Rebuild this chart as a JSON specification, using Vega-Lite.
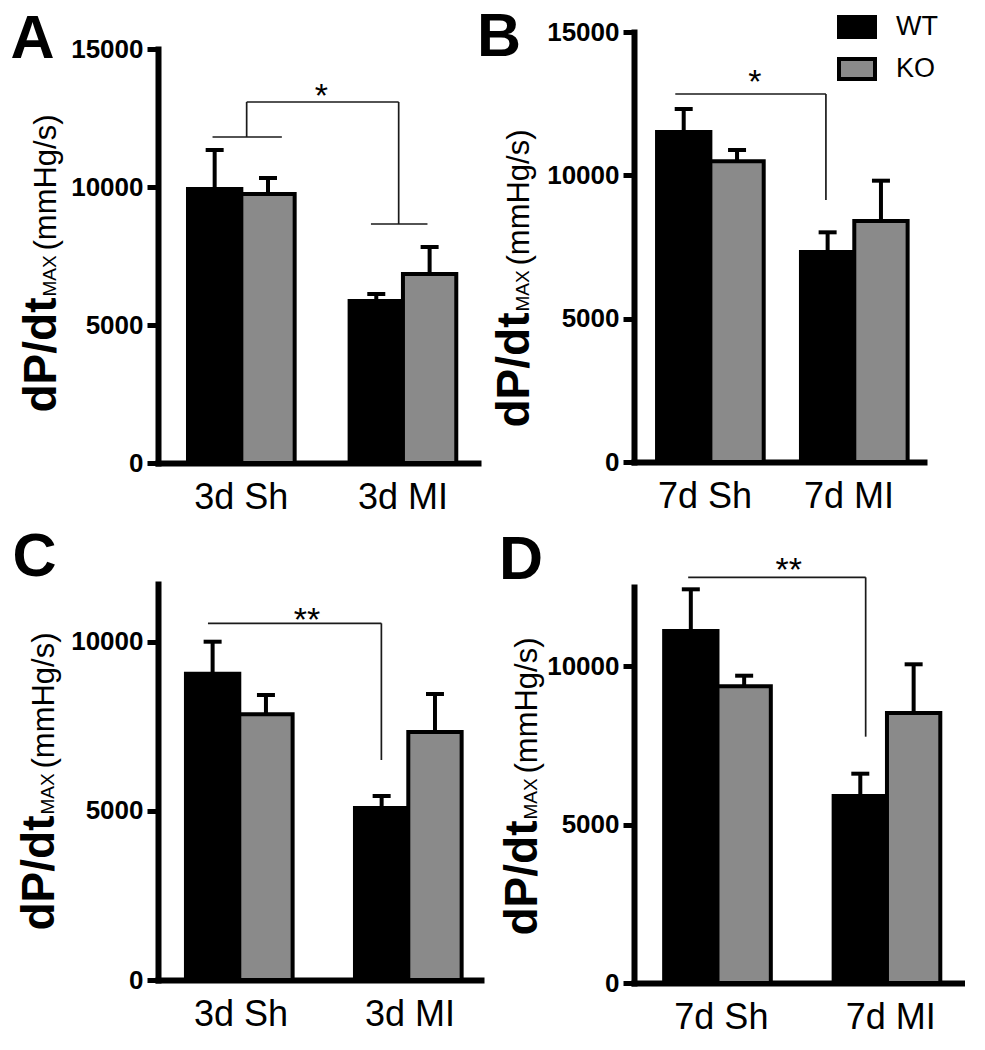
{
  "$schema": "https://vega.github.io/schema/vega-lite/v6.json",
  "padding": {"left": 10, "top": 6, "right": 0, "bottom": 0},
  "config": {
    "view": {"stroke": null},
    "font": "Liberation Sans",
    "axisX": {"domainColor": "black", "domainWidth": 6, "domainCap": "square", "ticks": false, "labelFont": "Liberation Sans", "labelFontSize": 36, "labelFontWeight": "normal", "labelColor": "black", "labelPadding": 17, "labelAngle": 0, "grid": false}
  },
  "datasets": {
    "bars": [
      {"panel": "A", "group": "3d Sh", "genotype": "WT", "mean": 9930, "upper": 11340},
      {"panel": "A", "group": "3d Sh", "genotype": "KO", "mean": 9746, "upper": 10326},
      {"panel": "A", "group": "3d MI", "genotype": "WT", "mean": 5870, "upper": 6123},
      {"panel": "A", "group": "3d MI", "genotype": "KO", "mean": 6848, "upper": 7826},
      {"panel": "B", "group": "7d Sh", "genotype": "WT", "mean": 11512, "upper": 12314},
      {"panel": "B", "group": "7d Sh", "genotype": "KO", "mean": 10490, "upper": 10884},
      {"panel": "B", "group": "7d MI", "genotype": "WT", "mean": 7326, "upper": 8012},
      {"panel": "B", "group": "7d MI", "genotype": "KO", "mean": 8407, "upper": 9813},
      {"panel": "C", "group": "3d Sh", "genotype": "WT", "mean": 9050, "upper": 9995},
      {"panel": "C", "group": "3d Sh", "genotype": "KO", "mean": 7850, "upper": 8420},
      {"panel": "C", "group": "3d MI", "genotype": "WT", "mean": 5082, "upper": 5436},
      {"panel": "C", "group": "3d MI", "genotype": "KO", "mean": 7327, "upper": 8450},
      {"panel": "D", "group": "7d Sh", "genotype": "WT", "mean": 11111, "upper": 12427},
      {"panel": "D", "group": "7d Sh", "genotype": "KO", "mean": 9366, "upper": 9700},
      {"panel": "D", "group": "7d MI", "genotype": "WT", "mean": 5903, "upper": 6607},
      {"panel": "D", "group": "7d MI", "genotype": "KO", "mean": 8523, "upper": 10060}
    ],
    "sig": [
      {"panel": "A", "from": "3d Sh", "to": "3d MI", "top": 13080, "low_from": 11812, "low_to": 8659, "star_y": 12899, "label": "*"},
      {"panel": "B", "from": "7d Sh", "to": "7d MI", "top": 12837, "low_to": 9140, "star_y": 12855, "label": "*"},
      {"panel": "C", "from": "3d Sh", "to": "3d MI", "top": 10539, "low_to": 6500, "star_y": 10326, "label": "**"},
      {"panel": "D", "from": "7d Sh", "to": "7d MI", "top": 12806, "low_to": 7775, "star_y": 12705, "label": "**"}
    ]
  },
  "resolve": {"scale": {"color": "independent"}, "legend": {"color": "independent"}},
  "columns": 2,
  "align": "none",
  "spacing": -5,
  "concat": [
    {
      "bounds": "flush",
      "spacing": 16,
      "resolve": {"scale": {"color": "independent"}, "legend": {"color": "independent"}},
      "vconcat": [
        {"width": 1, "height": 1, "data": {"values": []}, "mark": {"type": "point", "opacity": 0}, "encoding": {}},
        {
          "bounds": "flush",
          "spacing": 121,
          "resolve": {"scale": {"color": "independent"}, "legend": {"color": "independent"}},
          "vconcat": [
            {
              "width": 320, "height": 414,
              "resolve": {"axis": {"y": "independent"}},
              "layer": [
                {
                  "data": {"name": "bars"}, "transform": [{"filter": "datum.panel === 'A'"}],
                  "mark": {"type": "bar", "stroke": "black", "strokeWidth": 4},
                  "encoding": {
                    "x": {"field": "group", "type": "nominal", "sort": null, "scale": {"domain": ["3d Sh", "3d MI"], "paddingInner": 0.34, "paddingOuter": 0.16, "align": 0.58},
                      "axis": {"title": null, "domainColor": "black", "domainWidth": 6, "domainCap": "square", "ticks": false, "labelFont": "Liberation Sans", "labelFontSize": 36, "labelColor": "black", "labelPadding": 17, "labelAngle": 0, "grid": false}},
                    "xOffset": {"field": "genotype", "type": "nominal", "sort": null, "scale": {"domain": ["WT", "KO"], "paddingInner": 0, "paddingOuter": 0}},
                    "y": {"field": "mean", "type": "quantitative", "scale": {"domain": [0, 15000], "nice": false, "zero": true},
                      "axis": {"orient": "left", "title": "dP/dt", "titleX": -103, "titleY": 363, "titleAngle": -90, "titleAlign": "left", "titleBaseline": "alphabetic", "titleFont": "Liberation Sans", "titleFontSize": 46, "titleFontWeight": "bold", "titleColor": "black", "values": [0, 5000, 10000, 15000], "format": "d", "labelFont": "Liberation Sans", "labelFontSize": 26, "labelFontWeight": "bold", "labelColor": "black", "labelPadding": 4, "tickSize": 11, "tickWidth": 5, "tickColor": "black", "domainColor": "black", "domainWidth": 6, "domainCap": "square", "grid": false}},
                    "color": {"field": "genotype", "type": "nominal", "scale": {"domain": ["WT", "KO"], "range": ["#000000", "#8a8a8a"]}, "legend": null}
                  }
                },
                {
                  "data": {"name": "bars"}, "transform": [{"filter": "datum.panel === 'A'"}],
                  "mark": {"type": "rule", "strokeWidth": 4, "color": "black"},
                  "encoding": {
                    "x": {"field": "group", "type": "nominal", "sort": null, "scale": {"domain": ["3d Sh", "3d MI"]}, "axis": {"title": null}},
                    "xOffset": {"field": "genotype", "type": "nominal", "sort": null, "scale": {"domain": ["WT", "KO"]}},
                    "y": {"field": "mean", "type": "quantitative",
                      "axis": {"orient": "left", "title": "MAX", "titleX": -103, "titleY": 247, "titleAngle": -90, "titleAlign": "left", "titleBaseline": "alphabetic", "titleFont": "Liberation Sans", "titleFontSize": 19, "titleFontWeight": "normal", "titleColor": "black", "labels": false, "ticks": false, "domain": false, "grid": false}},
                    "y2": {"field": "upper"}
                  }
                },
                {
                  "data": {"name": "bars"}, "transform": [{"filter": "datum.panel === 'A'"}],
                  "mark": {"type": "tick", "thickness": 4, "size": 18, "color": "black", "opacity": 1},
                  "encoding": {
                    "x": {"field": "group", "type": "nominal", "sort": null, "scale": {"domain": ["3d Sh", "3d MI"]}, "axis": {"title": null}},
                    "xOffset": {"field": "genotype", "type": "nominal", "sort": null, "scale": {"domain": ["WT", "KO"]}},
                    "y": {"field": "upper", "type": "quantitative",
                      "axis": {"orient": "left", "title": "(mmHg/s)", "titleX": -103, "titleY": 201, "titleAngle": -90, "titleAlign": "left", "titleBaseline": "alphabetic", "titleFont": "Liberation Sans", "titleFontSize": 31, "titleFontWeight": "normal", "titleColor": "black", "labels": false, "ticks": false, "domain": false, "grid": false}}
                  }
                },
                {
                  "data": {"name": "sig"}, "transform": [{"filter": "datum.panel === 'A'"}],
                  "mark": {"type": "rule", "strokeWidth": 1.7, "color": "#1a1a1a"},
                  "encoding": {
                    "x": {"field": "from", "type": "nominal", "bandPosition": 0.55, "sort": null, "scale": {"domain": ["3d Sh", "3d MI"]}, "axis": {"title": null}},
                    "x2": {"field": "to", "bandPosition": 0.46},
                    "y": {"field": "top", "type": "quantitative", "axis": null}
                  }
                },
                {
                  "data": {"name": "sig"}, "transform": [{"filter": "datum.panel === 'A'"}],
                  "mark": {"type": "rule", "strokeWidth": 1.7, "color": "#1a1a1a"},
                  "encoding": {
                    "x": {"field": "from", "type": "nominal", "bandPosition": 0.55, "sort": null, "scale": {"domain": ["3d Sh", "3d MI"]}, "axis": {"title": null}},
                    "y": {"field": "top", "type": "quantitative", "axis": null},
                    "y2": {"field": "low_from"}
                  }
                },
                {
                  "data": {"name": "sig"}, "transform": [{"filter": "datum.panel === 'A'"}],
                  "mark": {"type": "rule", "strokeWidth": 1.7, "color": "#1a1a1a"},
                  "encoding": {
                    "x": {"field": "to", "type": "nominal", "bandPosition": 0.46, "sort": null, "scale": {"domain": ["3d Sh", "3d MI"]}, "axis": {"title": null}},
                    "y": {"field": "top", "type": "quantitative", "axis": null},
                    "y2": {"field": "low_to"}
                  }
                },
                {
                  "data": {"name": "sig"}, "transform": [{"filter": "datum.panel === 'A'"}],
                  "mark": {"type": "rule", "strokeWidth": 1.7, "color": "#1a1a1a"},
                  "encoding": {
                    "x": {"field": "from", "type": "nominal", "bandPosition": 0.23, "sort": null, "scale": {"domain": ["3d Sh", "3d MI"]}, "axis": {"title": null}},
                    "x2": {"field": "from", "bandPosition": 0.88},
                    "y": {"field": "low_from", "type": "quantitative", "axis": null}
                  }
                },
                {
                  "data": {"name": "sig"}, "transform": [{"filter": "datum.panel === 'A'"}],
                  "mark": {"type": "rule", "strokeWidth": 1.7, "color": "#1a1a1a"},
                  "encoding": {
                    "x": {"field": "to", "type": "nominal", "bandPosition": 0.2, "sort": null, "scale": {"domain": ["3d Sh", "3d MI"]}, "axis": {"title": null}},
                    "x2": {"field": "to", "bandPosition": 0.73},
                    "y": {"field": "low_to", "type": "quantitative", "axis": null}
                  }
                },
                {
                  "data": {"name": "sig"}, "transform": [{"filter": "datum.panel === 'A'"}],
                  "mark": {"type": "text", "fontSize": 34, "font": "Liberation Sans", "baseline": "alphabetic", "align": "center", "color": "black"},
                  "encoding": {
                    "x": {"field": "from", "type": "nominal", "bandPosition": 1.25, "sort": null, "scale": {"domain": ["3d Sh", "3d MI"]}, "axis": {"title": null}},
                    "y": {"field": "star_y", "type": "quantitative",
                      "axis": {"orient": "left", "title": "A", "titleX": -148, "titleY": 8, "titleAngle": 0, "titleAlign": "left", "titleBaseline": "alphabetic", "titleFont": "Liberation Sans", "titleFontSize": 61, "titleFontWeight": "bold", "titleColor": "black", "labels": false, "ticks": false, "domain": false, "grid": false}},
                    "text": {"field": "label"}
                  }
                }
              ]
            },
            {
              "width": 323, "height": 396,
              "resolve": {"axis": {"y": "independent"}},
              "layer": [
                {
                  "data": {"name": "bars"}, "transform": [{"filter": "datum.panel === 'C'"}],
                  "mark": {"type": "bar", "stroke": "black", "strokeWidth": 4},
                  "encoding": {
                    "x": {"field": "group", "type": "nominal", "sort": null, "scale": {"domain": ["3d Sh", "3d MI"], "paddingInner": 0.349, "paddingOuter": 0.13, "align": 0.636},
                      "axis": {"title": null, "domainColor": "black", "domainWidth": 6, "domainCap": "square", "ticks": false, "labelFont": "Liberation Sans", "labelFontSize": 36, "labelColor": "black", "labelPadding": 17, "labelAngle": 0, "grid": false}},
                    "xOffset": {"field": "genotype", "type": "nominal", "sort": null, "scale": {"domain": ["WT", "KO"], "paddingInner": 0, "paddingOuter": 0}},
                    "y": {"field": "mean", "type": "quantitative", "scale": {"domain": [0, 11700], "nice": false, "zero": true},
                      "axis": {"orient": "left", "title": "dP/dt", "titleX": -105, "titleY": 346, "titleAngle": -90, "titleAlign": "left", "titleBaseline": "alphabetic", "titleFont": "Liberation Sans", "titleFontSize": 46, "titleFontWeight": "bold", "titleColor": "black", "values": [0, 5000, 10000], "format": "d", "labelFont": "Liberation Sans", "labelFontSize": 26, "labelFontWeight": "bold", "labelColor": "black", "labelPadding": 4, "tickSize": 11, "tickWidth": 5, "tickColor": "black", "domainColor": "black", "domainWidth": 6, "domainCap": "square", "grid": false}},
                    "color": {"field": "genotype", "type": "nominal", "scale": {"domain": ["WT", "KO"], "range": ["#000000", "#8a8a8a"]}, "legend": null}
                  }
                },
                {
                  "data": {"name": "bars"}, "transform": [{"filter": "datum.panel === 'C'"}],
                  "mark": {"type": "rule", "strokeWidth": 4, "color": "black"},
                  "encoding": {
                    "x": {"field": "group", "type": "nominal", "sort": null, "scale": {"domain": ["3d Sh", "3d MI"]}, "axis": {"title": null}},
                    "xOffset": {"field": "genotype", "type": "nominal", "sort": null, "scale": {"domain": ["WT", "KO"]}},
                    "y": {"field": "mean", "type": "quantitative",
                      "axis": {"orient": "left", "title": "MAX", "titleX": -105, "titleY": 230, "titleAngle": -90, "titleAlign": "left", "titleBaseline": "alphabetic", "titleFont": "Liberation Sans", "titleFontSize": 19, "titleFontWeight": "normal", "titleColor": "black", "labels": false, "ticks": false, "domain": false, "grid": false}},
                    "y2": {"field": "upper"}
                  }
                },
                {
                  "data": {"name": "bars"}, "transform": [{"filter": "datum.panel === 'C'"}],
                  "mark": {"type": "tick", "thickness": 4, "size": 18, "color": "black", "opacity": 1},
                  "encoding": {
                    "x": {"field": "group", "type": "nominal", "sort": null, "scale": {"domain": ["3d Sh", "3d MI"]}, "axis": {"title": null}},
                    "xOffset": {"field": "genotype", "type": "nominal", "sort": null, "scale": {"domain": ["WT", "KO"]}},
                    "y": {"field": "upper", "type": "quantitative",
                      "axis": {"orient": "left", "title": "(mmHg/s)", "titleX": -105, "titleY": 184, "titleAngle": -90, "titleAlign": "left", "titleBaseline": "alphabetic", "titleFont": "Liberation Sans", "titleFontSize": 31, "titleFontWeight": "normal", "titleColor": "black", "labels": false, "ticks": false, "domain": false, "grid": false}}
                  }
                },
                {
                  "data": {"name": "sig"}, "transform": [{"filter": "datum.panel === 'C'"}],
                  "mark": {"type": "rule", "strokeWidth": 1.7, "color": "#1a1a1a"},
                  "encoding": {
                    "x": {"field": "from", "type": "nominal", "bandPosition": 0.2, "sort": null, "scale": {"domain": ["3d Sh", "3d MI"]}, "axis": {"title": null}},
                    "x2": {"field": "to", "bandPosition": 0.24},
                    "y": {"field": "top", "type": "quantitative", "axis": null}
                  }
                },
                {
                  "data": {"name": "sig"}, "transform": [{"filter": "datum.panel === 'C'"}],
                  "mark": {"type": "rule", "strokeWidth": 1.7, "color": "#1a1a1a"},
                  "encoding": {
                    "x": {"field": "to", "type": "nominal", "bandPosition": 0.24, "sort": null, "scale": {"domain": ["3d Sh", "3d MI"]}, "axis": {"title": null}},
                    "y": {"field": "top", "type": "quantitative", "axis": null},
                    "y2": {"field": "low_to"}
                  }
                },
                {
                  "data": {"name": "sig"}, "transform": [{"filter": "datum.panel === 'C'"}],
                  "mark": {"type": "text", "fontSize": 34, "font": "Liberation Sans", "baseline": "alphabetic", "align": "center", "color": "black"},
                  "encoding": {
                    "x": {"field": "from", "type": "nominal", "bandPosition": 1.1, "sort": null, "scale": {"domain": ["3d Sh", "3d MI"]}, "axis": {"title": null}},
                    "y": {"field": "star_y", "type": "quantitative",
                      "axis": {"orient": "left", "title": "C", "titleX": -146, "titleY": -9, "titleAngle": 0, "titleAlign": "left", "titleBaseline": "alphabetic", "titleFont": "Liberation Sans", "titleFontSize": 61, "titleFontWeight": "bold", "titleColor": "black", "labels": false, "ticks": false, "domain": false, "grid": false}},
                    "text": {"field": "label"}
                  }
                }
              ]
            }
          ]
        }
      ]
    },
    {
      "bounds": "flush",
      "spacing": 125,
      "resolve": {"scale": {"color": "independent"}, "legend": {"color": "independent"}},
      "vconcat": [
        {
          "width": 290, "height": 430,
          "resolve": {"axis": {"y": "independent"}},
          "layer": [
            {
              "data": {"name": "bars"}, "transform": [{"filter": "datum.panel === 'B'"}],
              "mark": {"type": "bar", "stroke": "black", "strokeWidth": 4},
              "encoding": {
                "x": {"field": "group", "type": "nominal", "sort": null, "scale": {"domain": ["7d Sh", "7d MI"], "paddingInner": 0.333, "paddingOuter": 0.174, "align": 0.46},
                  "axis": {"title": null, "domainColor": "black", "domainWidth": 6, "domainCap": "square", "ticks": false, "labelFont": "Liberation Sans", "labelFontSize": 36, "labelColor": "black", "labelPadding": 17, "labelAngle": 0, "grid": false}},
                "xOffset": {"field": "genotype", "type": "nominal", "sort": null, "scale": {"domain": ["WT", "KO"], "paddingInner": 0, "paddingOuter": 0}},
                "y": {"field": "mean", "type": "quantitative", "scale": {"domain": [0, 15000], "nice": false, "zero": true},
                  "axis": {"orient": "left", "title": "dP/dt", "titleX": -106, "titleY": 395, "titleAngle": -90, "titleAlign": "left", "titleBaseline": "alphabetic", "titleFont": "Liberation Sans", "titleFontSize": 46, "titleFontWeight": "bold", "titleColor": "black", "values": [0, 5000, 10000, 15000], "format": "d", "labelFont": "Liberation Sans", "labelFontSize": 26, "labelFontWeight": "bold", "labelColor": "black", "labelPadding": 4, "tickSize": 11, "tickWidth": 5, "tickColor": "black", "domainColor": "black", "domainWidth": 6, "domainCap": "square", "grid": false}},
                "color": {"field": "genotype", "type": "nominal", "scale": {"domain": ["WT", "KO"], "range": ["#000000", "#8a8a8a"]},
                  "legend": {"orient": "none", "legendX": 203, "legendY": -25, "title": null, "symbolType": "M-1,-0.56H1V0.56H-1Z", "symbolSize": 1296, "symbolStrokeColor": "black", "symbolStrokeWidth": 4, "symbolOpacity": 1, "labelFont": "Liberation Sans", "labelFontSize": 27, "labelColor": "black", "labelOffset": 19, "rowPadding": 3, "padding": 0}}
              }
            },
            {
              "data": {"name": "bars"}, "transform": [{"filter": "datum.panel === 'B'"}],
              "mark": {"type": "rule", "strokeWidth": 4, "color": "black"},
              "encoding": {
                "x": {"field": "group", "type": "nominal", "sort": null, "scale": {"domain": ["7d Sh", "7d MI"]}, "axis": {"title": null}},
                "xOffset": {"field": "genotype", "type": "nominal", "sort": null, "scale": {"domain": ["WT", "KO"]}},
                "y": {"field": "mean", "type": "quantitative",
                  "axis": {"orient": "left", "title": "MAX", "titleX": -106, "titleY": 279, "titleAngle": -90, "titleAlign": "left", "titleBaseline": "alphabetic", "titleFont": "Liberation Sans", "titleFontSize": 19, "titleFontWeight": "normal", "titleColor": "black", "labels": false, "ticks": false, "domain": false, "grid": false}},
                "y2": {"field": "upper"}
              }
            },
            {
              "data": {"name": "bars"}, "transform": [{"filter": "datum.panel === 'B'"}],
              "mark": {"type": "tick", "thickness": 4, "size": 18, "color": "black", "opacity": 1},
              "encoding": {
                "x": {"field": "group", "type": "nominal", "sort": null, "scale": {"domain": ["7d Sh", "7d MI"]}, "axis": {"title": null}},
                "xOffset": {"field": "genotype", "type": "nominal", "sort": null, "scale": {"domain": ["WT", "KO"]}},
                "y": {"field": "upper", "type": "quantitative",
                  "axis": {"orient": "left", "title": "(mmHg/s)", "titleX": -106, "titleY": 233, "titleAngle": -90, "titleAlign": "left", "titleBaseline": "alphabetic", "titleFont": "Liberation Sans", "titleFontSize": 31, "titleFontWeight": "normal", "titleColor": "black", "labels": false, "ticks": false, "domain": false, "grid": false}}
              }
            },
            {
              "data": {"name": "sig"}, "transform": [{"filter": "datum.panel === 'B'"}],
              "mark": {"type": "rule", "strokeWidth": 1.7, "color": "#1a1a1a"},
              "encoding": {
                "x": {"field": "from", "type": "nominal", "bandPosition": 0.19, "sort": null, "scale": {"domain": ["7d Sh", "7d MI"]}, "axis": {"title": null}},
                "x2": {"field": "to", "bandPosition": 0.26},
                "y": {"field": "top", "type": "quantitative", "axis": null}
              }
            },
            {
              "data": {"name": "sig"}, "transform": [{"filter": "datum.panel === 'B'"}],
              "mark": {"type": "rule", "strokeWidth": 1.7, "color": "#1a1a1a"},
              "encoding": {
                "x": {"field": "to", "type": "nominal", "bandPosition": 0.26, "sort": null, "scale": {"domain": ["7d Sh", "7d MI"]}, "axis": {"title": null}},
                "y": {"field": "top", "type": "quantitative", "axis": null},
                "y2": {"field": "low_to"}
              }
            },
            {
              "data": {"name": "sig"}, "transform": [{"filter": "datum.panel === 'B'"}],
              "mark": {"type": "text", "fontSize": 34, "font": "Liberation Sans", "baseline": "alphabetic", "align": "center", "color": "black"},
              "encoding": {
                "x": {"field": "from", "type": "nominal", "bandPosition": 1.02, "sort": null, "scale": {"domain": ["7d Sh", "7d MI"]}, "axis": {"title": null}},
                "y": {"field": "star_y", "type": "quantitative",
                  "axis": {"orient": "left", "title": "B", "titleX": -157.5, "titleY": 23, "titleAngle": 0, "titleAlign": "left", "titleBaseline": "alphabetic", "titleFont": "Liberation Sans", "titleFontSize": 61, "titleFontWeight": "bold", "titleColor": "black", "labels": false, "ticks": false, "domain": false, "grid": false}},
                "text": {"field": "label"}
              }
            }
          ]
        },
        {
          "width": 331, "height": 396,
          "resolve": {"axis": {"y": "independent"}},
          "layer": [
            {
              "data": {"name": "bars"}, "transform": [{"filter": "datum.panel === 'D'"}],
              "mark": {"type": "bar", "stroke": "black", "strokeWidth": 4},
              "encoding": {
                "x": {"field": "group", "type": "nominal", "sort": null, "scale": {"domain": ["7d Sh", "7d MI"], "paddingInner": 0.325, "paddingOuter": 0.139, "align": 0.64},
                  "axis": {"title": null, "domainColor": "black", "domainWidth": 6, "domainCap": "square", "ticks": false, "labelFont": "Liberation Sans", "labelFontSize": 36, "labelColor": "black", "labelPadding": 17, "labelAngle": 0, "grid": false}},
                "xOffset": {"field": "genotype", "type": "nominal", "sort": null, "scale": {"domain": ["WT", "KO"], "paddingInner": 0, "paddingOuter": 0}},
                "y": {"field": "mean", "type": "quantitative", "scale": {"domain": [0, 12500], "nice": false, "zero": true},
                  "axis": {"orient": "left", "title": "dP/dt", "titleX": -98, "titleY": 348, "titleAngle": -90, "titleAlign": "left", "titleBaseline": "alphabetic", "titleFont": "Liberation Sans", "titleFontSize": 46, "titleFontWeight": "bold", "titleColor": "black", "values": [0, 5000, 10000], "format": "d", "labelFont": "Liberation Sans", "labelFontSize": 26, "labelFontWeight": "bold", "labelColor": "black", "labelPadding": 4, "tickSize": 11, "tickWidth": 5, "tickColor": "black", "domainColor": "black", "domainWidth": 6, "domainCap": "square", "grid": false}},
                "color": {"field": "genotype", "type": "nominal", "scale": {"domain": ["WT", "KO"], "range": ["#000000", "#8a8a8a"]}, "legend": null}
              }
            },
            {
              "data": {"name": "bars"}, "transform": [{"filter": "datum.panel === 'D'"}],
              "mark": {"type": "rule", "strokeWidth": 4, "color": "black"},
              "encoding": {
                "x": {"field": "group", "type": "nominal", "sort": null, "scale": {"domain": ["7d Sh", "7d MI"]}, "axis": {"title": null}},
                "xOffset": {"field": "genotype", "type": "nominal", "sort": null, "scale": {"domain": ["WT", "KO"]}},
                "y": {"field": "mean", "type": "quantitative",
                  "axis": {"orient": "left", "title": "MAX", "titleX": -98, "titleY": 232, "titleAngle": -90, "titleAlign": "left", "titleBaseline": "alphabetic", "titleFont": "Liberation Sans", "titleFontSize": 19, "titleFontWeight": "normal", "titleColor": "black", "labels": false, "ticks": false, "domain": false, "grid": false}},
                "y2": {"field": "upper"}
              }
            },
            {
              "data": {"name": "bars"}, "transform": [{"filter": "datum.panel === 'D'"}],
              "mark": {"type": "tick", "thickness": 4, "size": 18, "color": "black", "opacity": 1},
              "encoding": {
                "x": {"field": "group", "type": "nominal", "sort": null, "scale": {"domain": ["7d Sh", "7d MI"]}, "axis": {"title": null}},
                "xOffset": {"field": "genotype", "type": "nominal", "sort": null, "scale": {"domain": ["WT", "KO"]}},
                "y": {"field": "upper", "type": "quantitative",
                  "axis": {"orient": "left", "title": "(mmHg/s)", "titleX": -98, "titleY": 186, "titleAngle": -90, "titleAlign": "left", "titleBaseline": "alphabetic", "titleFont": "Liberation Sans", "titleFontSize": 31, "titleFontWeight": "normal", "titleColor": "black", "labels": false, "ticks": false, "domain": false, "grid": false}}
              }
            },
            {
              "data": {"name": "sig"}, "transform": [{"filter": "datum.panel === 'D'"}],
              "mark": {"type": "rule", "strokeWidth": 1.7, "color": "#1a1a1a"},
              "encoding": {
                "x": {"field": "from", "type": "nominal", "bandPosition": 0.21, "sort": null, "scale": {"domain": ["7d Sh", "7d MI"]}, "axis": {"title": null}},
                "x2": {"field": "to", "bandPosition": 0.28},
                "y": {"field": "top", "type": "quantitative", "axis": null}
              }
            },
            {
              "data": {"name": "sig"}, "transform": [{"filter": "datum.panel === 'D'"}],
              "mark": {"type": "rule", "strokeWidth": 1.7, "color": "#1a1a1a"},
              "encoding": {
                "x": {"field": "to", "type": "nominal", "bandPosition": 0.28, "sort": null, "scale": {"domain": ["7d Sh", "7d MI"]}, "axis": {"title": null}},
                "y": {"field": "top", "type": "quantitative", "axis": null},
                "y2": {"field": "low_to"}
              }
            },
            {
              "data": {"name": "sig"}, "transform": [{"filter": "datum.panel === 'D'"}],
              "mark": {"type": "text", "fontSize": 34, "font": "Liberation Sans", "baseline": "alphabetic", "align": "center", "color": "black"},
              "encoding": {
                "x": {"field": "from", "type": "nominal", "bandPosition": 1.09, "sort": null, "scale": {"domain": ["7d Sh", "7d MI"]}, "axis": {"title": null}},
                "y": {"field": "star_y", "type": "quantitative",
                  "axis": {"orient": "left", "title": "D", "titleX": -135.5, "titleY": -9, "titleAngle": 0, "titleAlign": "left", "titleBaseline": "alphabetic", "titleFont": "Liberation Sans", "titleFontSize": 61, "titleFontWeight": "bold", "titleColor": "black", "labels": false, "ticks": false, "domain": false, "grid": false}},
                "text": {"field": "label"}
              }
            }
          ]
        }
      ]
    }
  ]
}
